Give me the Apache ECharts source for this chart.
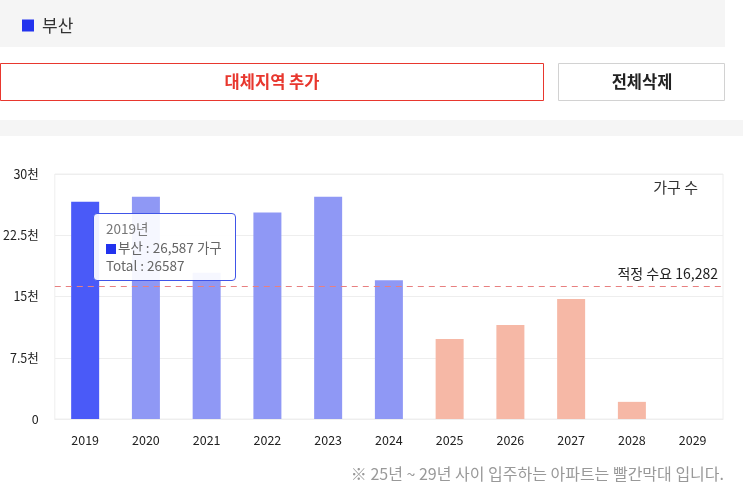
<!DOCTYPE html>
<html>
<head>
<meta charset="utf-8">
<style>
  html, body { margin: 0; padding: 0; background: #fff; }
  #chart { width: 743px; height: 491px; }
</style>
<script src="https://cdn.jsdelivr.net/npm/echarts@6/dist/echarts.min.js"></script>
</head>
<body>
<div id="chart"></div>
<script>
// ---- data ----
const years = ['2019', '2020', '2021', '2022', '2023', '2024', '2025', '2026', '2027', '2028', '2029'];
const households = [26587, 27200, 17900, 25300, 27200, 17000, 9800, 11500, 14700, 2100, 0];
const demand = 16282;
const yTicks = [0, 7500, 15000, 22500, 30000];
const seriesName = '부산';
const firstFutureIndex = 6; // 2025~2029 red bars
const tooltipIndex = 0;

const FONT = '"Noto Sans CJK KR", "Noto Sans", sans-serif';
const BLUE = '#2233ee';

const chart = echarts.init(document.getElementById('chart'), null, { renderer: 'canvas' });

const barData = households.map((v, i) => ({
  value: v,
  itemStyle: {
    color: i === tooltipIndex ? '#4a5af8' : (i < firstFutureIndex ? '#8f98f5' : '#f6b8a6')
  }
}));

const fmt = n => n.toLocaleString('en-US');

chart.setOption({
  animation: false,
  textStyle: { fontFamily: FONT },
  legend: {
    left: 17,
    top: 12,
    icon: 'rect',
    itemWidth: 12,
    itemHeight: 12,
    selectedMode: false,
    textStyle: { fontSize: 17, color: '#333', fontFamily: FONT, padding: [0, 0, 0, 3] },
    data: [seriesName]
  },
  grid: {
    left: 54, right: 20, top: 174, bottom: 72,
    show: true, borderColor: '#eeeeee', borderWidth: 1, backgroundColor: 'transparent'
  },
  tooltip: {
    trigger: 'item',
    triggerOn: 'none',
    alwaysShowContent: true,
    transitionDuration: 0,
    position: [93, 213],
    backgroundColor: 'rgba(255,255,255,0.92)',
    borderColor: '#4055e8',
    borderWidth: 1,
    borderRadius: 4,
    padding: [5, 13, 5, 12],
    extraCssText: 'box-shadow:none;line-height:18.5px;',
    textStyle: { fontSize: 13.5, color: '#666', fontFamily: FONT },
    formatter: p => {
      const i = p.dataIndex;
      return '<div style="color:#777">' + years[i] + '년</div>' +
        '<div><span style="display:inline-block;width:10px;height:10px;background:' + BLUE + ';margin-right:2px;vertical-align:-1px"></span>' +
        seriesName + ' : ' + fmt(households[i]) + ' 가구</div>' +
        '<div>Total : ' + households[i] + '</div>';
    }
  },
  xAxis: {
    type: 'category',
    data: years,
    axisLine: { lineStyle: { color: '#eeeeee' } },
    axisTick: { show: false },
    axisLabel: { color: '#222', fontSize: 12.5, margin: 15, fontFamily: FONT }
  },
  yAxis: {
    type: 'value',
    min: yTicks[0],
    max: yTicks[yTicks.length - 1],
    interval: yTicks[1] - yTicks[0],
    axisLine: { show: false },
    axisTick: { show: false },
    splitLine: { lineStyle: { color: '#eeeeee' } },
    axisLabel: {
      color: '#222', fontSize: 12.5, margin: 16, fontFamily: FONT,
      formatter: v => v === 0 ? '0' : (v / 1000) + '천'
    }
  },
  series: [{
    name: seriesName,
    type: 'bar',
    barWidth: 28,
    itemStyle: { color: BLUE },
    emphasis: { disabled: true },
    data: barData,
    markLine: {
      silent: true,
      symbol: 'none',
      lineStyle: { color: '#e88080', type: [6, 5], width: 1 },
      label: {
        position: 'insideEndTop',
        distance: [5, 5],
        color: '#222',
        fontSize: 14,
        fontFamily: FONT,
        formatter: '적정 수요 ' + fmt(demand)
      },
      data: [{ yAxis: demand }]
    }
  }],
  graphic: [
    { type: 'rect', z: -10, shape: { x: 0, y: 0, width: 725, height: 47 }, style: { fill: '#f5f5f5' } },
    { type: 'rect', shape: { x: 0.5, y: 63.5, width: 543, height: 37 }, style: { fill: '#fff', stroke: '#e8372e', lineWidth: 1 } },
    { type: 'text', x: 272, y: 82, style: { text: '대체지역 추가', fontSize: 16.5, fontWeight: 'bold', fill: '#e8372e', align: 'center', verticalAlign: 'middle', fontFamily: FONT } },
    { type: 'rect', shape: { x: 558.5, y: 63.5, width: 166, height: 37 }, style: { fill: '#fff', stroke: '#d2d2d2', lineWidth: 1 } },
    { type: 'text', x: 642, y: 82, style: { text: '전체삭제', fontSize: 16.5, fontWeight: 'bold', fill: '#222', align: 'center', verticalAlign: 'middle', fontFamily: FONT } },
    { type: 'rect', z: -10, shape: { x: 0, y: 120, width: 743, height: 16 }, style: { fill: '#f5f5f5' } },
    { type: 'text', x: 698, y: 187, style: { text: '가구 수', fontSize: 15, fill: '#333', align: 'right', verticalAlign: 'middle', fontFamily: FONT } },
    { type: 'text', x: 724, y: 474, style: { text: '※ 25년 ~ 29년 사이 입주하는 아파트는 빨간막대 입니다.', fontSize: 16, fill: '#999', align: 'right', verticalAlign: 'middle', fontFamily: FONT } }
  ]
});

chart.dispatchAction({ type: 'showTip', seriesIndex: 0, dataIndex: tooltipIndex });
</script>
</body>
</html>
